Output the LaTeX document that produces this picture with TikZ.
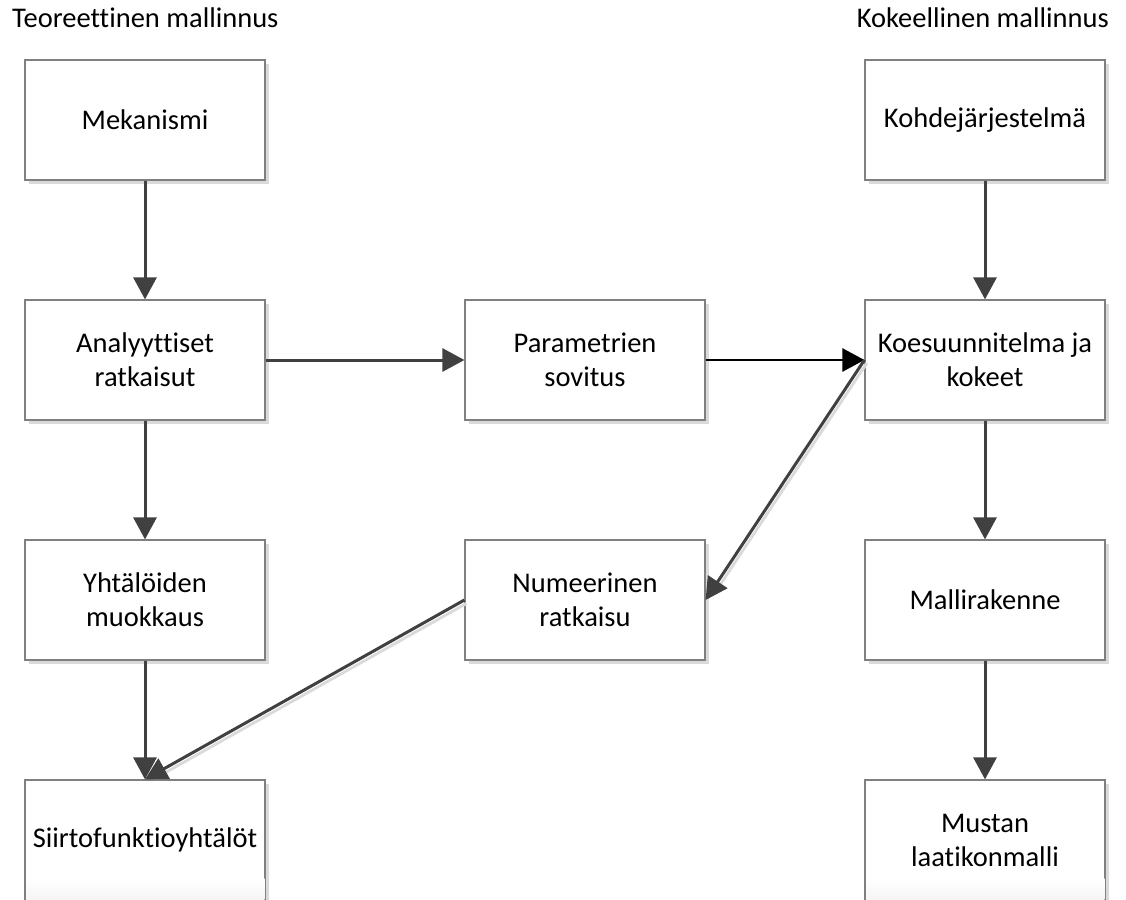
\documentclass[tikz,border=0pt]{standalone}
\usepackage{fontspec}
\setmainfont{Carlito}[Ligatures={NoCommon}]
\usetikzlibrary{arrows.meta,shadows}
\definecolor{edge}{HTML}{404040}
\definecolor{boxline}{HTML}{808080}
\definecolor{shade}{HTML}{DADADA}
\begin{document}
\begin{tikzpicture}[x=1pt,y=-1pt,
  every node/.style={font=\fontsize{28.5}{34}\selectfont},
  blok/.style={draw=boxline, line width=1.2pt, fill=white, minimum width=240pt,
    minimum height=120pt, inner sep=0pt, align=center,
    drop shadow={shadow xshift=3.5pt, shadow yshift=-3.5pt, fill=shade, opacity=1}},
  otsikko/.style={font=\fontsize{28.5}{34}\selectfont, inner sep=0pt},
  nuoli/.style={draw=edge, line width=3pt,
    -{Triangle[length=22pt,width=23pt]}, fill=edge},
  varjo/.style={draw=shade, line width=2.8pt, shorten >=12pt}
]
\useasboundingbox (0,0) rectangle (1126,899);
\clip (0,0) rectangle (1126,899);

% column headings
\node[otsikko, anchor=base west] (tt) at (12,28) {Teoreettinen mallinnus};
\node[otsikko, anchor=base east] (kt) at (1109,28) {Kokeellinen mallinnus};

% theoretical branch
\node[blok] (mek) at (145,120) {Mekanismi};
\node[blok] (ana) at (145,360) {Analyyttiset\\ratkaisut};
\node[blok] (yht) at (145,600) {Yhtälöiden\\muokkaus};
\node[blok] (sii) at (145,840) {};

% middle column
\node[blok] (par) at (585,360) {Parametrien\\sovitus};
\node[blok] (num) at (585,600) {Numeerinen\\ratkaisu};

% experimental branch
\node[blok] (koh) at (985,120) {Kohdejärjestelmä};
\node[blok] (koe) at (985,360) {Koesuunnitelma ja\\kokeet};
\node[blok] (mal) at (985,600) {Mallirakenne};
\node[blok] (mus) at (985,840) {};

% faint fade where the lowest boxes run off the page
\shade[top color=white, bottom color=black!4] (26,878) rectangle (264.4,899);
\shade[top color=white, bottom color=black!4] (866,878) rectangle (1104.4,899);
\node (siit) at (sii.center) {Siirtofunktioyhtälöt};
\node[align=center] (must) at (mus.center) {Mustan\\laatikonmalli};

% shadows of the diagonal connectors
\draw[varjo] ([shift={(2.5,3)}]koe.west) -- ([shift={(2.5,3)}]num.east);
\draw[varjo] ([shift={(2,3.5)}]num.west) -- ([shift={(2,3.5)}]sii.north);

% connectors
\draw[nuoli] (mek.south) -- (ana.north);
\draw[nuoli] (ana.south) -- (yht.north);
\draw[nuoli] (yht.south) -- (sii.north);
\draw[nuoli] (ana.east) -- (par.west);
\draw[nuoli, draw=black, fill=black, line width=2.6pt] (par.east) -- (koe.west);
\draw[nuoli] (koe.west) -- (num.east);
\draw[nuoli] (num.west) -- (sii.north);
\draw[nuoli] (koh.south) -- (koe.north);
\draw[nuoli] (koe.south) -- (mal.north);
\draw[nuoli] (mal.south) -- (mus.north);
\end{tikzpicture}
\end{document}
